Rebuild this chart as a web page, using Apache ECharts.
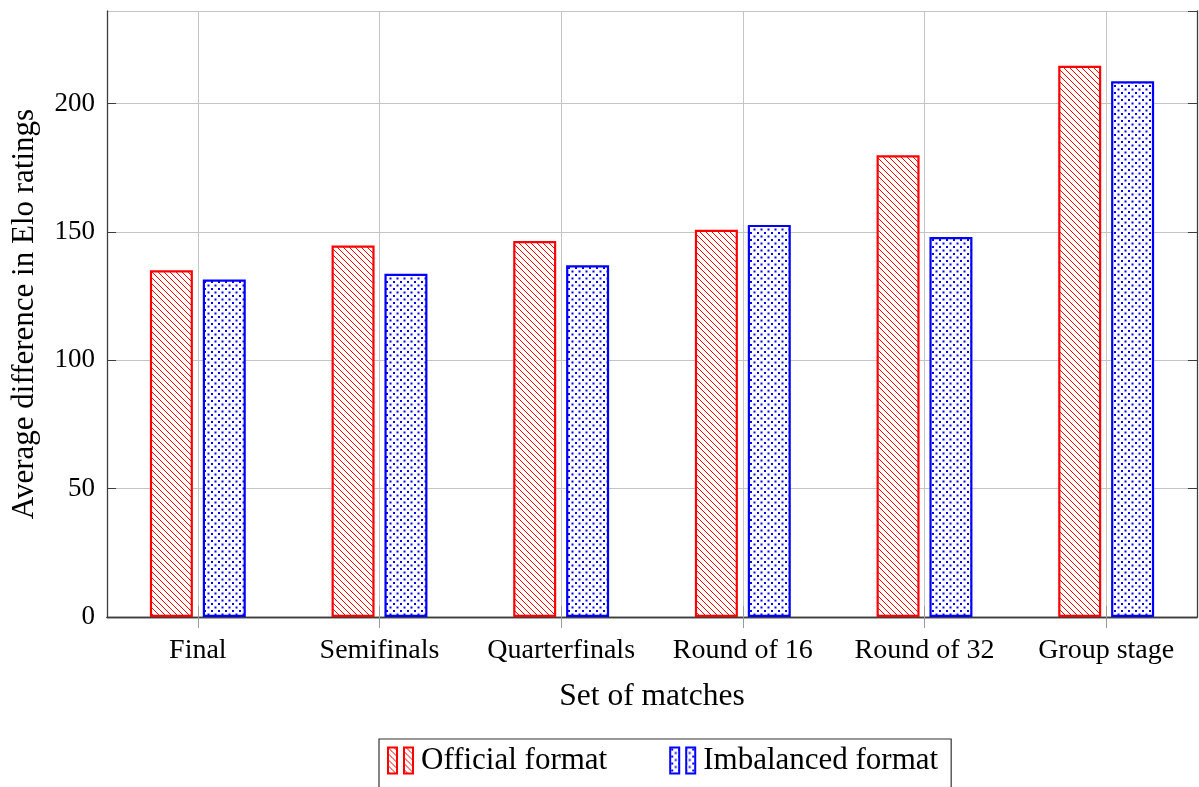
<!DOCTYPE html>
<html>
<head>
<meta charset="utf-8">
<style>
  html, body { margin: 0; padding: 0; background: #fff; }
  #chart { width: 1199px; height: 787px; }
</style>
<script src="https://cdn.jsdelivr.net/npm/echarts@6/dist/echarts.min.js"></script>
</head>
<body>
<div id="chart"></div>
<script>
const categories = ["Final", "Semifinals", "Quarterfinals", "Round of 16", "Round of 32", "Group stage"];
const officialFormat = [135.0, 144.7, 146.4, 150.8, 179.8, 214.7];
const imbalancedFormat = [131.4, 133.7, 137.0, 152.7, 148.0, 208.6];
const yTicks = { min: 0, max: 236, interval: 50 };

const FONT = "'Liberation Serif', 'DejaVu Serif', serif";
const GRID_COLOR = "#c4c4c4";
const FRAME_COLOR = "#3c3c3c";

// hatch: north west lines
function makeLines(color) {
  const s = 6;
  const c = document.createElement("canvas");
  c.width = s;
  c.height = s;
  const ctx = c.getContext("2d");
  ctx.fillStyle = "#fff";
  ctx.fillRect(0, 0, s, s);
  ctx.strokeStyle = color;
  ctx.lineWidth = 1;
  ctx.beginPath();
  ctx.moveTo(-1, -1);
  ctx.lineTo(s + 1, s + 1);
  ctx.moveTo(s - 1, -1);
  ctx.lineTo(s + 1, 1);
  ctx.moveTo(-1, s - 1);
  ctx.lineTo(1, s + 1);
  ctx.stroke();
  return c;
}

// crosshatch dots
function makeDots(color) {
  const s = 7;
  const c = document.createElement("canvas");
  c.width = s;
  c.height = s;
  const ctx = c.getContext("2d");
  ctx.fillStyle = "#fff";
  ctx.fillRect(0, 0, s, s);
  ctx.fillStyle = color;
  ctx.fillRect(1, 1, 2, 2);
  ctx.fillRect(4.5, 4.5, 2, 2);
  return c;
}

const chart = echarts.init(document.getElementById("chart"));
const legendIcon = "path://M0,0h9v26h-9z M16,0h9v26h-9z";

chart.setOption({
  animation: false,
  textStyle: { fontFamily: FONT, color: "#000" },
  grid: { left: 107, right: 2, top: 11, bottom: 170, containLabel: false },
  legend: {
    left: 379,
    top: 739,
    orient: "horizontal",
    itemWidth: 25,
    itemHeight: 26,
    itemGap: 62,
    padding: [6, 13, 20, 8],
    borderColor: "#333",
    borderWidth: 1.2,
    borderRadius: 0,
    textStyle: { fontFamily: FONT, fontSize: 31, color: "#000", padding: [0, 0, 0, 3] },
    data: [
      { name: "Official format", icon: legendIcon },
      { name: "Imbalanced format", icon: legendIcon },
    ],
  },
  xAxis: [
    {
      type: "category",
      data: categories,
      position: "bottom",
      name: "Set of matches",
      nameLocation: "middle",
      nameGap: 64,
      nameTextStyle: { fontFamily: FONT, fontSize: 31.5, color: "#000" },
      axisLine: { show: true, lineStyle: { color: FRAME_COLOR, width: 1.3 } },
      axisTick: { show: true, interval: 0, alignWithLabel: true, length: 11, lineStyle: { color: "#999" } },
      axisLabel: { interval: 0, fontFamily: FONT, fontSize: 28, color: "#000", margin: 20 },
      splitLine: { show: true, interval: 0, alignWithLabel: true, lineStyle: { color: GRID_COLOR, width: 1 } },
    },
    {
      type: "category",
      data: categories,
      position: "top",
      axisLine: { show: true, lineStyle: { color: FRAME_COLOR, width: 1.3 } },
      axisTick: { show: true, interval: 0, alignWithLabel: true, length: 11, lineStyle: { color: "#999" } },
      axisLabel: { show: false },
      splitLine: { show: false },
    },
  ],
  yAxis: [
    {
      type: "value",
      min: yTicks.min,
      max: yTicks.max,
      interval: yTicks.interval,
      position: "left",
      name: "Average difference in Elo ratings",
      nameLocation: "middle",
      nameGap: 67,
      nameTextStyle: { fontFamily: FONT, fontSize: 31, color: "#000" },
      axisLine: { show: true, lineStyle: { color: FRAME_COLOR, width: 1.3 } },
      axisTick: { show: true, inside: true, length: 9, lineStyle: { color: FRAME_COLOR } },
      axisLabel: { fontFamily: FONT, fontSize: 27, color: "#000", margin: 12, showMaxLabel: false },
      splitLine: { show: true, lineStyle: { color: GRID_COLOR, width: 1 } },
    },
    {
      type: "value",
      min: yTicks.min,
      max: yTicks.max,
      interval: yTicks.interval,
      position: "right",
      axisLine: { show: true, lineStyle: { color: FRAME_COLOR, width: 1.3 } },
      axisTick: { show: true, inside: true, length: 9, lineStyle: { color: FRAME_COLOR } },
      axisLabel: { show: false },
      splitLine: { show: false },
    },
  ],
  series: [
    {
      name: "Official format",
      type: "bar",
      data: officialFormat,
      barWidth: 43,
      barGap: "23%",
      itemStyle: {
        color: { image: makeLines("#ff0000"), repeat: "repeat" },
        borderColor: "#ff0000",
        borderWidth: 2.2,
      },
    },
    {
      name: "Imbalanced format",
      type: "bar",
      data: imbalancedFormat,
      barWidth: 43,
      barGap: "23%",
      itemStyle: {
        color: { image: makeDots("#0000ff"), repeat: "repeat" },
        borderColor: "#0000ff",
        borderWidth: 2.2,
      },
    },
  ],
});
</script>
</body>
</html>
